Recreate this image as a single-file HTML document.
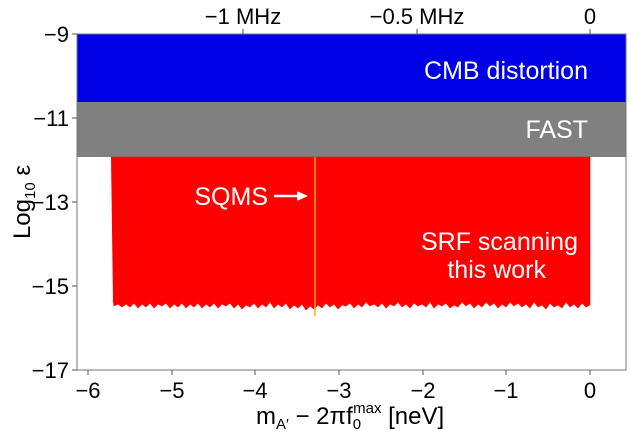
<!DOCTYPE html>
<html><head><style>
body{margin:0;background:#fff;}
svg text{font-family:"Liberation Sans",sans-serif;}
</style></head><body>
<svg width="630" height="433" viewBox="0 0 630 433">
<rect x="77" y="34" width="549" height="68" fill="#0000e6"/>
<rect x="77" y="102" width="549" height="55" fill="#808080"/>
<polyline fill="#ff0000" stroke="#ff0000" stroke-width="0.6" points="111,157 590,157 590,305 586,307 582,303 578,308 574,304 570,307 566,302 562,308 558,305 554,307 550,303 546,309 542,305 538,307 534,302 530,308 526,304 522,307 518,303 514,306 510,302 506,307 502,304 498,308 494,303 490,306 486,302 482,307 478,304 474,308 470,303 466,306 462,302 458,307 454,305 450,308 446,303 442,306 438,304 434,308 430,302 426,307 422,304 418,306 414,303 410,308 406,304 402,307 398,302 394,306 390,304 386,308 382,303 378,307 374,304 370,306 366,302 362,307 358,304 354,308 350,303 346,306 342,305 338,309 334,304 330,307 326,303 322,308 318,305 314,309 310,306 306,310 302,304 298,308 294,305 290,309 286,303 282,307 278,304 274,308 270,302 266,307 262,304 258,308 254,303 250,307 246,305 242,309 238,304 234,308 230,303 226,306 222,304 218,308 214,303 210,307 206,304 202,308 198,303 194,307 190,304 186,308 182,303 178,307 174,304 170,308 166,303 162,306 158,304 154,308 150,303 146,307 142,304 138,308 134,303 130,307 126,304 122,307 118,304 114,306 113,300"/>
<line x1="315" y1="157" x2="315" y2="316" stroke="#ffb000" stroke-width="1.5"/>
<rect x="77" y="34" width="549" height="336" fill="none" stroke="#777" stroke-width="1"/>
<g fill="#fff" font-size="25">
<text x="588" y="79" text-anchor="end">CMB distortion</text>
<text x="588" y="138" text-anchor="end">FAST</text>
<text x="578" y="250" text-anchor="end">SRF scanning</text>
<text x="546" y="278" text-anchor="end">this work</text>
<text x="268" y="205" text-anchor="end">SQMS</text>
</g>
<line x1="274" y1="196" x2="300" y2="196" stroke="#fff" stroke-width="2.5"/>
<polygon points="308,196 297,191 297,201" fill="#fff"/>
<g stroke="#555" stroke-width="1">
<line x1="72" y1="34" x2="77" y2="34"/><line x1="72" y1="118" x2="77" y2="118"/><line x1="72" y1="202" x2="77" y2="202"/><line x1="72" y1="286" x2="77" y2="286"/><line x1="72" y1="370" x2="77" y2="370"/>
<line x1="88" y1="370" x2="88" y2="375"/><line x1="172" y1="370" x2="172" y2="375"/><line x1="255" y1="370" x2="255" y2="375"/><line x1="339" y1="370" x2="339" y2="375"/><line x1="423" y1="370" x2="423" y2="375"/><line x1="506" y1="370" x2="506" y2="375"/><line x1="590" y1="370" x2="590" y2="375"/>
<line x1="243" y1="29" x2="243" y2="34"/><line x1="417" y1="29" x2="417" y2="34"/><line x1="590" y1="29" x2="590" y2="34"/>
</g>
<g fill="#000" font-size="22">
<g text-anchor="end">
<text x="69" y="42">−9</text><text x="69" y="126">−11</text><text x="69" y="210">−13</text><text x="69" y="294">−15</text><text x="69" y="378">−17</text>
</g>
<g text-anchor="middle">
<text x="88" y="398">−6</text><text x="172" y="398">−5</text><text x="255" y="398">−4</text><text x="339" y="398">−3</text><text x="423" y="398">−2</text><text x="506" y="398">−1</text><text x="590" y="398">0</text>
<text x="243" y="24">−1 MHz</text><text x="417" y="24">−0.5 MHz</text><text x="590" y="24">0</text>
</g>
<text x="256" y="424" font-size="24">m<tspan font-size="15" dy="5">A′</tspan><tspan dy="-5"> − 2πf</tspan><tspan font-size="15" dy="5">0</tspan><tspan font-size="15" dx="-8" dy="-16">max</tspan><tspan dy="11"> [neV]</tspan></text>
<text transform="translate(30,202) rotate(-90)" text-anchor="middle" font-size="24">Log<tspan font-size="15" dy="5">10</tspan><tspan dy="-5"> ε</tspan></text>
</g>
</svg>
</body></html>
